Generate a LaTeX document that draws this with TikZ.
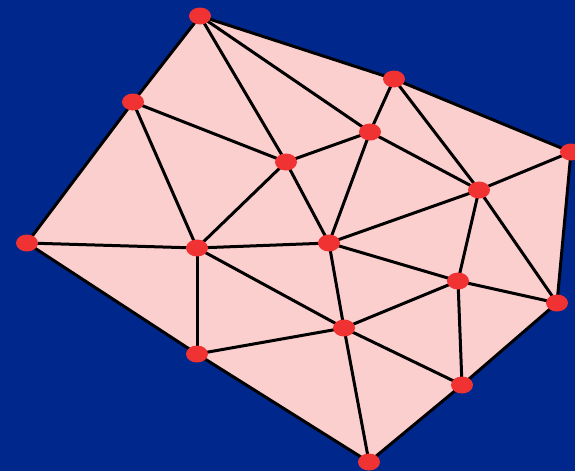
\documentclass[tikz,border=0pt]{standalone}
\usepackage{tikz}
\usetikzlibrary{shapes.geometric}
\definecolor{navy}{HTML}{00288C}
\definecolor{blush}{HTML}{FCCFCF}
\definecolor{dot}{HTML}{F03232}
\tikzset{vert/.style={ellipse,fill=dot,minimum width=22pt,minimum height=17pt,inner sep=0pt},edge/.style={line width=3pt,draw=black}}
\begin{document}
\begin{tikzpicture}[x=1pt,y=-1pt]
\fill[navy] (0,0) rectangle (575,471);
\useasboundingbox (0,0) rectangle (575,471);
% outer ring
\coordinate (a) at (200,16);\coordinate (b) at (394,79);\coordinate (c) at (571,152);
\coordinate (d) at (557,303);\coordinate (e) at (462,385);\coordinate (f) at (369,462);
\coordinate (g) at (197,354);\coordinate (h) at (27,243);\coordinate (i) at (133,102);
% inner points
\coordinate (j) at (286,162);\coordinate (k) at (370,132);\coordinate (l) at (479,190);
\coordinate (m) at (329,243);\coordinate (n) at (197,248);\coordinate (o) at (458,281);
\coordinate (p) at (344,328);
\fill[blush] (a)--(b)--(c)--(d)--(e)--(f)--(g)--(h)--(i)--cycle;
\draw[edge,line join=round] (a)--(b)--(c)--(d)--(e)--(f)--(g)--(h)--(i)--cycle;
\foreach \u/\v in {a/j,a/k,i/j,i/n,h/n,j/k,j/n,j/m,k/b,k/m,k/l,b/l,l/c,l/m,l/o,l/d,m/n,m/o,m/p,n/p,n/g,g/p,p/o,p/f,p/e,o/e,o/d}
  \draw[edge] (\u)--(\v);
\foreach \v in {a,b,c,d,e,f,g,h,i,j,k,l,m,n,o,p}
  \node[vert] (v\v) at (\v) {};
\end{tikzpicture}
\end{document}
